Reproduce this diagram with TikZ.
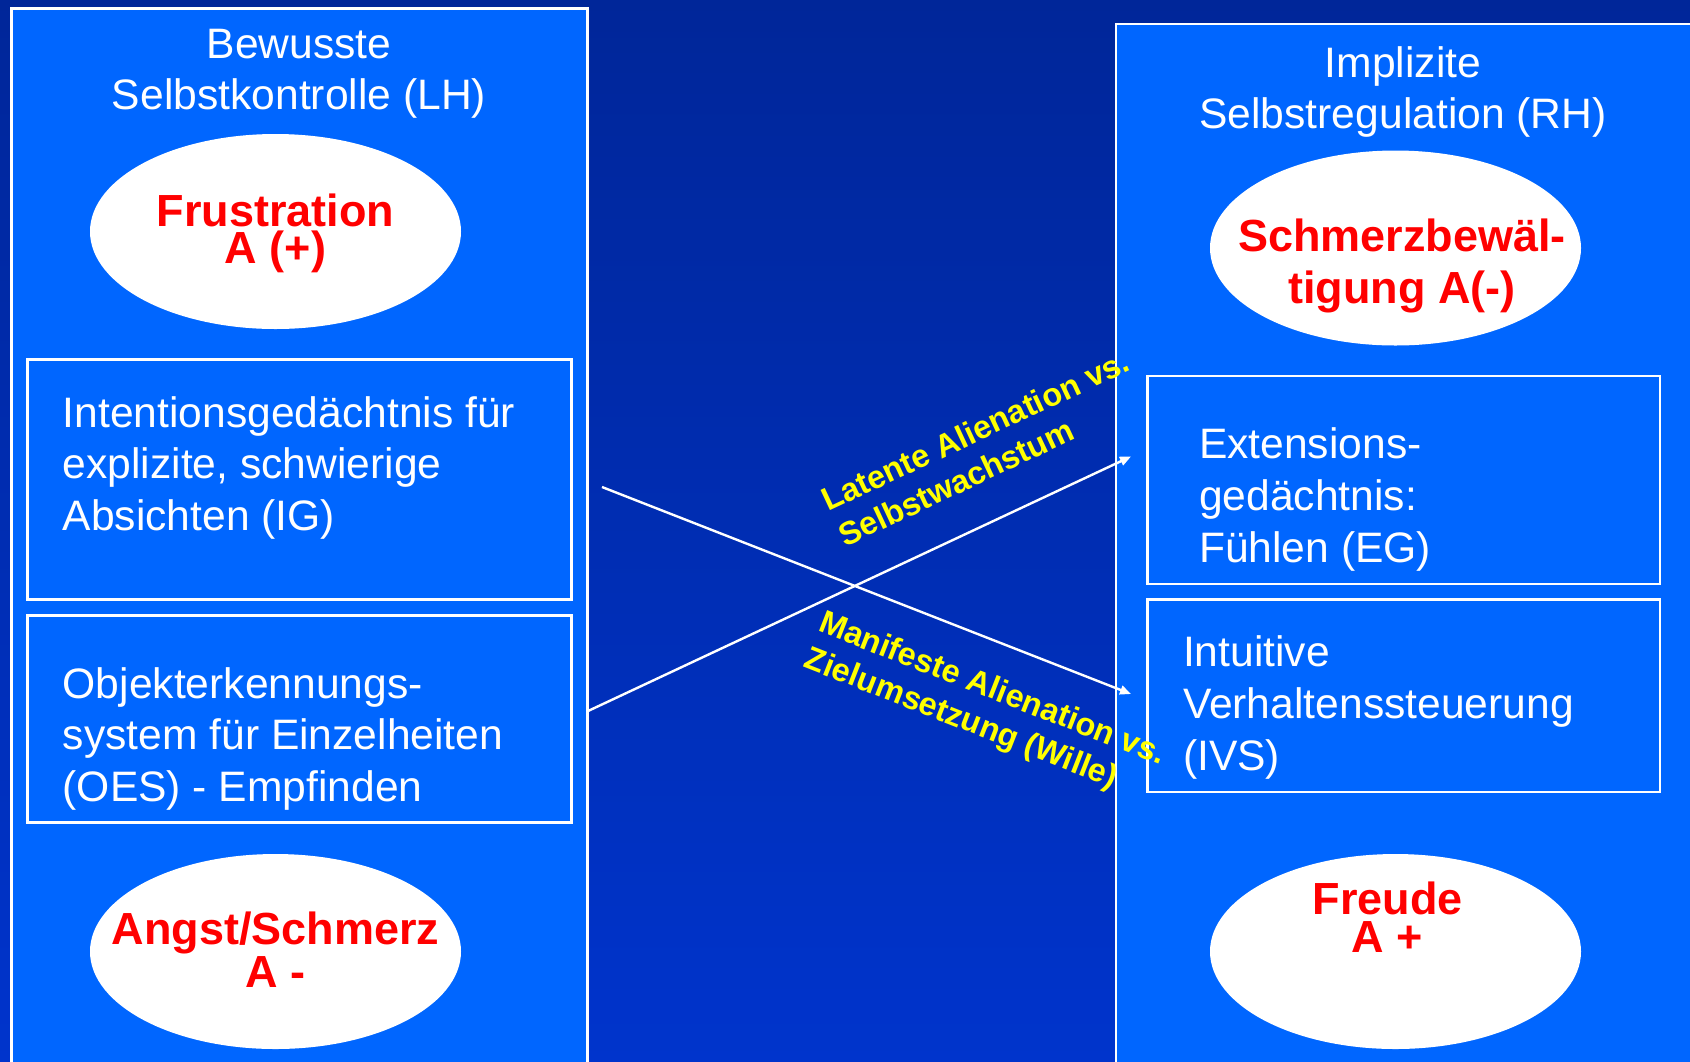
\documentclass[tikz,border=0pt]{standalone}
\usepackage{fontspec}
\setmainfont{Liberation Sans}
\usetikzlibrary{arrows.meta,positioning,shapes.geometric}
\definecolor{bgtop}{RGB}{0,38,153}
\definecolor{bgbot}{RGB}{0,52,204}
\definecolor{panelblue}{RGB}{0,102,255}
\definecolor{ovalred}{RGB}{255,0,0}
\definecolor{noteyellow}{RGB}{255,255,0}

\begin{document}
\begin{tikzpicture}[
  x=0.5pt, y=-0.5pt,
  every node/.style={inner sep=0pt, outer sep=0pt},
  panel/.style={draw=white, line width=1.25pt, fill=panelblue, anchor=north west},
  membox/.style={draw=white, line width=1.25pt, anchor=north west},
  oval/.style={ellipse, fill=white, minimum width=185.5pt, minimum height=97.5pt},
  title/.style={text=white, align=center, font=\fontsize{21.3pt}{25.5pt}\selectfont},
  memtext/.style={text=white, align=left, anchor=north west,
                  font=\fontsize{21.3pt}{25.8pt}\selectfont},
  ovaltext/.style={text=ovalred, align=center, font=\fontsize{22.5pt}{18.5pt}\selectfont\bfseries},
  note/.style={text=noteyellow, align=left, anchor=west,
               font=\fontsize{16.2pt}{19.5pt}\selectfont\bfseries},
  arr/.style={-{Triangle[length=5.5pt,width=4.5pt]}, draw=white, line width=1.2pt}
]
\useasboundingbox (0,0) rectangle (1690,1061);
\clip (0,0) rectangle (1690,1061);
\fill[top color=bgtop, bottom color=bgbot] (0,0) rectangle (1690,1061);

% two hemispheres
\node[panel, minimum width=288pt, minimum height=536pt] (lh) at (11.3,8.5) {};
\node[panel, minimum width=292pt, minimum height=528pt] (rh) at (1116,24) {};
\node[title] (lhtitle) at (299,73.5) {Bewusste\\Selbstkontrolle (LH)};
\node[title] (rhtitle) at (1403,91.5) {Implizite\\Selbstregulation (RH)};

% memory systems
\node[membox, minimum width=272pt, minimum height=120pt] (ig) at (27.3,359.5) {};
\node[membox, minimum width=272pt, minimum height=103.5pt, below=8pt of ig.south west, anchor=north west] (oes) {};
\node[membox, minimum width=256.25pt, minimum height=104pt] (eg) at (1147.5,376) {};
\node[membox, minimum width=256.25pt, minimum height=96.25pt, below=7.75pt of eg.south west, anchor=north west] (ivs) {};

\node[memtext] (igtext) at ([shift={(35.5,37)}]ig.north west) {Intentionsgedächtnis für\\explizite, schwierige\\Absichten (IG)};
\node[memtext] (oestext) at ([shift={(35.5,52)}]oes.north west) {Objekterkennungs-\\system für Einzelheiten\\(OES) - Empfinden};
\node[memtext] (egtext) at ([shift={(51.5,52)}]eg.north west) {Extensions-\\gedächtnis:\\Fühlen (EG)};
\node[memtext] (ivstext) at ([shift={(35.5,36.5)}]ivs.north west) {Intuitive\\Verhaltenssteuerung\\(IVS)};

% affects
\node[oval] (frust) at (275.5,231.5) {};
\node[oval] (angst) at (275.5,951.5) {};
\node[oval] (schmerz) at (1395.5,248) {};
\node[oval] (freude) at (1395.5,951.5) {};

\node[ovaltext] (frusttext) at ([shift={(0,2)}]frust.center) {Frustration\\A (+)};
\node[ovaltext] (angsttext) at ([shift={(0,-2)}]angst.center) {Angst/Schmerz\\A -};
\node[ovaltext, font=\fontsize{22.5pt}{26pt}\selectfont\bfseries] (schmerztext) at ([shift={(6.5,18)}]schmerz.center) {Schmerzbewäl-\\tigung A(-)};
\node[ovaltext, font=\fontsize{22.5pt}{19pt}\selectfont\bfseries] (freudetext) at ([shift={(-8,-34.5)}]freude.center) {Freude\\A +};

% crossing arrows
\coordinate (igout) at (602,487);
\coordinate (oesout) at (588,711);
\coordinate (egin) at (1131,456.5);
\coordinate (ivsin) at (1131,694);
\draw[arr] (igout) -- (ivsin);
\draw[arr] (oesout) -- (egin);

\node[note, rotate=25.1] (latent) at (832,519) {Latente Alienation vs.\\Selbstwachstum};
\node[note, rotate=-21.4] (manifest) at (813,641) {Manifeste Alienation vs.\\Zielumsetzung (Wille)};
\end{tikzpicture}
\end{document}
